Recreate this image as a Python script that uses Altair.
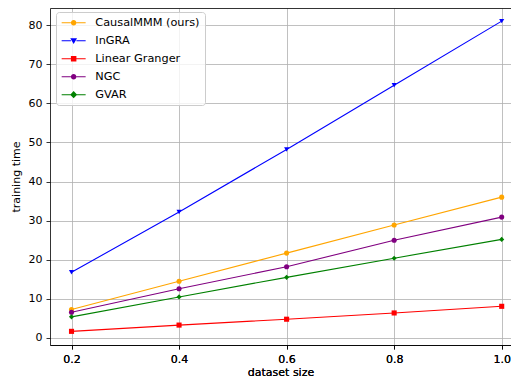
import altair as alt
import pandas as pd

dataset_size = [0.2, 0.4, 0.6, 0.8, 1.0]
series_names = ["CausalMMM (ours)", "InGRA", "Linear Granger", "NGC", "GVAR"]
causalmmm = [7.3, 14.5, 21.7, 28.9, 36.0]
ingra = [16.8, 32.2, 48.2, 64.6, 81.0]
linear_granger = [1.7, 3.3, 4.8, 6.4, 8.1]
ngc = [6.6, 12.6, 18.2, 25.0, 30.9]
gvar = [5.4, 10.5, 15.5, 20.4, 25.2]
colors = ["orange", "blue", "red", "purple", "green"]
marker_shapes = ["circle", "triangle-down", "square", "circle", "diamond"]

_seg = "M-1,-0.1L0.85,-0.1L0.85,0.1L-1,0.1Z M1.95,-0.1L3.8,-0.1L3.8,0.1L1.95,0.1Z "
_circle = "M1.95,0A0.55,0.55 0 1,1 0.85,0A0.55,0.55 0 1,1 1.95,0Z"
legend_paths = [
    _seg + _circle,
    _seg + "M0.72,-0.5L2.08,-0.5L1.4,0.68Z",
    _seg + "M0.85,-0.55L1.95,-0.55L1.95,0.55L0.85,0.55Z",
    _seg + _circle,
    _seg + "M1.4,-0.72L2.1,0L1.4,0.72L0.7,0Z",
]

rows = []
for name, vals in zip(series_names, [causalmmm, ingra, linear_granger, ngc, gvar]):
    for xv, yv in zip(dataset_size, vals):
        rows.append({"dataset size": xv, "training time": yv, "method": name})
df = pd.DataFrame(rows)

x_scale = alt.Scale(domain=[0.16, 1.0173], nice=False, zero=False)
x = alt.X("dataset size:Q", scale=x_scale,
          axis=alt.Axis(values=dataset_size, format=".1f", title="dataset size", titlePadding=2))
x_top = alt.X("dataset size:Q", scale=x_scale,
              axis=alt.Axis(orient="top", labels=False, ticks=False, grid=False, title=None, domain=True))
y = alt.Y("training time:Q", scale=alt.Scale(domain=[-1.79, 84.35], nice=False, zero=False),
          axis=alt.Axis(values=list(range(0, 81, 10)), title="training time", titlePadding=7))

base = alt.Chart(df)

lines = base.mark_line(strokeWidth=1.1).encode(
    x=x, y=y,
    color=alt.Color("method:N", scale=alt.Scale(domain=series_names, range=colors), legend=None),
    detail="method:N",
)

points = base.mark_point(filled=True, opacity=1, size=26).encode(
    x=x_top, y=y,
    color=alt.Color("method:N", scale=alt.Scale(domain=series_names, range=colors), legend=None),
    shape=alt.Shape("method:N", scale=alt.Scale(domain=series_names, range=marker_shapes), legend=None),
)

legend_cfg = alt.Legend(
    title=None, orient="none", legendX=6, legendY=4,
    fillColor="rgba(255,255,255,0.8)", strokeColor="#cccccc", cornerRadius=3,
    padding=5, rowPadding=6, labelOffset=23, symbolSize=100,
    symbolStrokeWidth=0, symbolOpacity=1, labelFontSize=11.3, labelFont="DejaVu Sans",
    labelColor="black",
)

legend_layer = base.mark_point(filled=True, opacity=0, size=100).encode(
    x=x, y=y,
    color=alt.Color("method:N", scale=alt.Scale(domain=series_names, range=colors), legend=legend_cfg),
    shape=alt.Shape("method:N", scale=alt.Scale(domain=series_names, range=legend_paths), legend=legend_cfg),
)

chart = alt.layer(lines, points, legend_layer).resolve_scale(
    color="independent", shape="independent"
).resolve_axis(
    x="independent"
).properties(
    width=461, height=337,
    autosize=alt.AutoSizeParams(type="none"),
    padding={"left": 42, "top": 0, "right": 0, "bottom": 34},
).configure_view(
    stroke=None
).configure_axis(
    labelFont="DejaVu Sans", titleFont="DejaVu Sans", labelFontSize=11, titleFontSize=11,
    titleFontWeight="normal", labelColor="black", titleColor="black",
    tickColor="black", domainColor="black", tickSize=4, tickWidth=0.8, domainWidth=0.8,
    gridColor="#b0b0b0", gridWidth=0.8, labelPadding=4,
)

chart.save("out.html", embed_options={"renderer": "svg", "actions": False})
